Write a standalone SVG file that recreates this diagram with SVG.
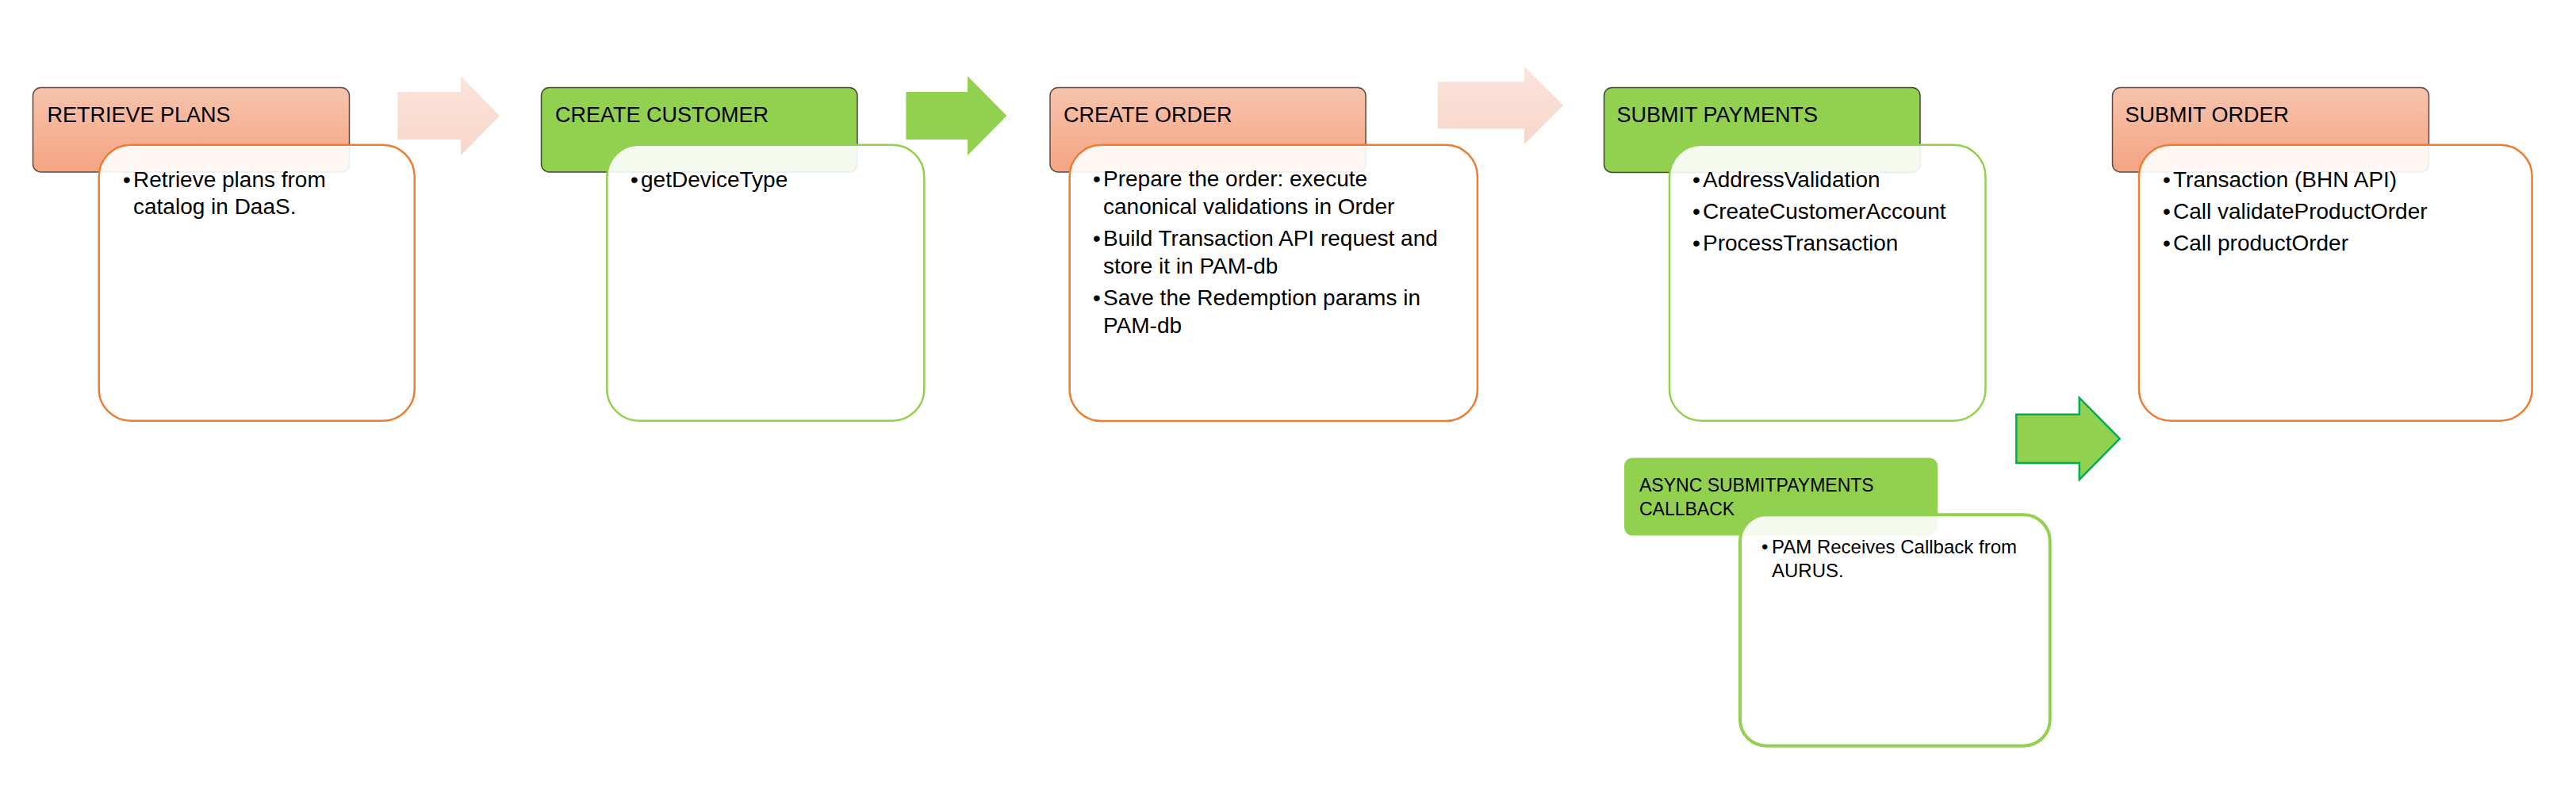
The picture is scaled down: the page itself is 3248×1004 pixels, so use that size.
<svg xmlns="http://www.w3.org/2000/svg" width="3248" height="1004" viewBox="0 0 3248 1004">
<defs>
<linearGradient id="gOr" x1="0" y1="0" x2="0" y2="1">
<stop offset="0" stop-color="#F7C3AC"/>
<stop offset="1" stop-color="#F4A482"/>
</linearGradient>
<linearGradient id="gPale" x1="0" y1="0" x2="0" y2="1">
<stop offset="0" stop-color="#FBE4DB"/>
<stop offset="1" stop-color="#F8D6C9"/>
</linearGradient>
<style>
.hdrO{fill:url(#gOr);stroke:#5E4A42;stroke-width:1.5}
.hdrG{fill:#92D050;stroke:#3F4A33;stroke-width:1.5}
.hdrA{fill:#92D050;stroke:none}
.bodyO{fill:#FFFFFF;fill-opacity:0.9;stroke:#ED7D31;stroke-width:2.5}
.bodyG{fill:#FFFFFF;fill-opacity:0.9;stroke:#92D050;stroke-width:2.5}
.bodyA{fill:#FFFFFF;fill-opacity:0.9;stroke:#92D050;stroke-width:4}
.ht{font-family:"Liberation Sans",Arial,sans-serif;font-size:27px;fill:#000}
.hta{font-family:"Liberation Sans",Arial,sans-serif;font-size:23px;fill:#000}
.bt{font-family:"Liberation Sans",Arial,sans-serif;font-size:28px;fill:#000}
.bta{font-family:"Liberation Sans",Arial,sans-serif;font-size:24px;fill:#000}
.arP{fill:url(#gPale);stroke:none}
.arG{fill:#92D050;stroke:none}
.arGS{fill:#92D050;stroke:#00B050;stroke-width:2.5}
</style>
</defs>
<rect width="3248" height="1004" fill="#FFFFFF"/>

<g id="connectors">
<polygon class="arP" points="501.4,116 581,116 581,96 630,146 581,196 581,176 501.4,176"/>
<polygon class="arG" points="1142.4,116 1220,116 1220,96 1269.4,146 1220,196 1220,176 1142.4,176"/>
<polygon class="arP" points="1812.7,103.3 1922,103.3 1922,84 1971,132.7 1922,182 1922,162.3 1812.7,162.3"/>
<polygon class="arGS" points="2542.3,522.7 2621.8,522.7 2621.8,501.7 2672.7,553.3 2621.8,605 2621.8,584 2542.3,584"/>
</g>

<g id="retrieve-plans">
<rect class="hdrO" x="41.5" y="110.5" width="399" height="106.5" rx="10"/>
<text class="ht" x="59.5" y="154">RETRIEVE PLANS</text>
<rect class="bodyO" x="124.7" y="182.7" width="398" height="348" rx="40"/>
<text class="bt"><tspan x="155" y="235.7">•</tspan><tspan x="168" y="235.7">Retrieve plans from</tspan><tspan x="168" y="270.2">catalog in DaaS.</tspan></text>
</g>

<g id="create-customer">
<rect class="hdrG" x="682.5" y="110.5" width="398.5" height="106.5" rx="10"/>
<text class="ht" x="700" y="154">CREATE CUSTOMER</text>
<rect class="bodyG" x="765.3" y="182.7" width="400" height="348" rx="40"/>
<text class="bt"><tspan x="795" y="235.7">•</tspan><tspan x="808" y="235.7">getDeviceType</tspan></text>
</g>

<g id="create-order">
<rect class="hdrO" x="1324" y="110.5" width="398" height="106.5" rx="10"/>
<text class="ht" x="1341" y="154">CREATE ORDER</text>
<rect class="bodyO" x="1348.6" y="182.7" width="514.3" height="348.3" rx="40"/>
<text class="bt">
<tspan x="1378" y="235">•</tspan><tspan x="1391" y="235">Prepare the order: execute</tspan><tspan x="1391" y="269.5">canonical validations in Order</tspan>
<tspan x="1378" y="310">•</tspan><tspan x="1391" y="310">Build Transaction API request and</tspan><tspan x="1391" y="345">store it in PAM-db</tspan>
<tspan x="1378" y="385">•</tspan><tspan x="1391" y="385">Save the Redemption params in</tspan><tspan x="1391" y="419.5">PAM-db</tspan>
</text>
</g>

<g id="submit-payments">
<rect class="hdrG" x="2022.5" y="110.5" width="398.5" height="107" rx="10"/>
<text class="ht" x="2038.5" y="154">SUBMIT PAYMENTS</text>
<rect class="bodyG" x="2105" y="182.7" width="398.5" height="348" rx="40"/>
<text class="bt">
<tspan x="2134" y="235.7">•</tspan><tspan x="2147" y="235.7">AddressValidation</tspan>
<tspan x="2134" y="275.5">•</tspan><tspan x="2147" y="275.5">CreateCustomerAccount</tspan>
<tspan x="2134" y="315.5">•</tspan><tspan x="2147" y="315.5">ProcessTransaction</tspan>
</text>
</g>

<g id="submit-order">
<rect class="hdrO" x="2663.5" y="110.5" width="399" height="106.5" rx="10"/>
<text class="ht" x="2679.5" y="154">SUBMIT ORDER</text>
<rect class="bodyO" x="2697" y="182.7" width="495.6" height="348" rx="40"/>
<text class="bt">
<tspan x="2727" y="235.7">•</tspan><tspan x="2740" y="235.7">Transaction (BHN API)</tspan>
<tspan x="2727" y="275.5">•</tspan><tspan x="2740" y="275.5">Call validateProductOrder</tspan>
<tspan x="2727" y="315.5">•</tspan><tspan x="2740" y="315.5">Call productOrder</tspan>
</text>
</g>

<g id="async-callback">
<rect class="hdrA" x="2048" y="577.5" width="395" height="98" rx="10"/>
<text class="hta"><tspan x="2067" y="620">ASYNC SUBMITPAYMENTS</tspan><tspan x="2067" y="650">CALLBACK</tspan></text>
<rect class="bodyA" x="2194" y="649.3" width="390.7" height="291.4" rx="33"/>
<text class="bta"><tspan x="2221" y="698.3">•</tspan><tspan x="2234" y="698.3">PAM Receives Callback from</tspan><tspan x="2234" y="728.3">AURUS.</tspan></text>
</g>
</svg>
